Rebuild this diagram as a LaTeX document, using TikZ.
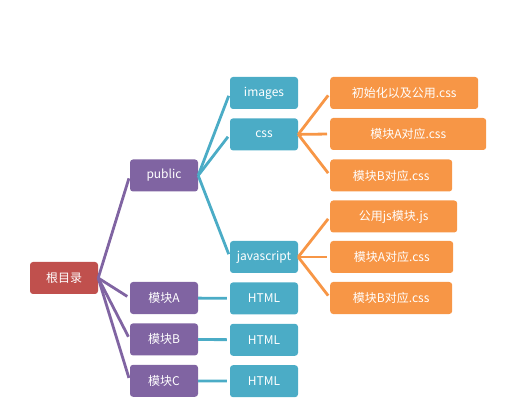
\documentclass[tikz,border=0pt]{standalone}
\usepackage{fontspec}
\setmainfont{Noto Sans CJK SC}
\usetikzlibrary{positioning}
\definecolor{RootRed}{HTML}{C0504D}
\definecolor{DirPurple}{HTML}{8064A2}
\definecolor{FileBlue}{HTML}{4BACC6}
\definecolor{LeafOrange}{HTML}{F79646}

\begin{document}
\begin{tikzpicture}[
        x=1pt, y=1pt,
        font=\fontsize{12}{14}\selectfont,
        every node/.style={align=center, text=white},
        rootbox/.style={rectangle, fill=RootRed, rounded corners=3pt, inner sep=2pt, minimum width=68pt, minimum height=32pt},
        dirbox/.style={rectangle, fill=DirPurple, rounded corners=3pt, inner sep=2pt, minimum width=68pt, minimum height=32pt},
        filebox/.style={rectangle, fill=FileBlue, rounded corners=3pt, inner sep=2pt, minimum width=68pt, minimum height=32pt},
        leafbox/.style={rectangle, fill=LeafOrange, rounded corners=3pt, inner sep=2pt, minimum height=32pt},
        dirlink/.style={draw=DirPurple, line width=2.8pt, shorten >=3pt},
        filelink/.style={draw=FileBlue, line width=2.8pt, shorten >=3pt},
        leaflink/.style={draw=LeafOrange, line width=2.8pt, shorten >=3pt}
      ]
        \useasboundingbox (0,0) rectangle (513,412);

        % Root
        \node[rootbox] (root) at (64,134) {根目录};

        % Second level: public and modules
        \node[dirbox] (public) at (164,236.5) {public};
        \node[dirbox] (modA) at (164,114) {模块A};
        \node[dirbox, below=9pt of modA] (modB) {模块B};
        \node[dirbox, below=9pt of modB] (modC) {模块C};

        % Third level
        \node[filebox] (images) at (264,319) {images};
        \node[filebox, below=9pt of images] (css) {css};
        \node[filebox] (js) at (264,155) {javascript};
        \node[filebox, below=9pt of js] (htmlA) {HTML};
        \node[filebox, below=9pt of htmlA] (htmlB) {HTML};
        \node[filebox, below=9pt of htmlB] (htmlC) {HTML};

        % Leaves of css
        \node[leafbox, anchor=west, minimum width=148pt] (cssInit) at (330,319) {初始化以及公用.css};
        \node[leafbox, anchor=west, minimum width=156pt] (cssA) at (330,278) {模块A对应.css};
        \node[leafbox, anchor=west, minimum width=122pt] (cssB) at (330,236.5) {模块B对应.css};

        % Leaves of javascript
        \node[leafbox, anchor=west, minimum width=127pt] (jsCommon) at (330,195.5) {公用js模块.js};
        \node[leafbox, anchor=west, minimum width=123pt] (jsA) at (330,155) {模块A对应.css};
        \node[leafbox, anchor=west, minimum width=122pt] (jsB) at (330,114) {模块B对应.css};

        % Connections
        \foreach \child in {public, modA, modB, modC}
          \draw[dirlink] (root.east) -- (\child.west);

        \foreach \child in {images, css, js}
          \draw[filelink] (public.east) -- (\child.west);
        \draw[filelink] (modA) -- (htmlA);
        \draw[filelink] (modB) -- (htmlB);
        \draw[filelink] (modC) -- (htmlC);

        \foreach \leaf in {cssInit, cssA, cssB}
          \draw[leaflink] (css.east) -- (\leaf.west);
        \foreach \leaf in {jsCommon, jsA, jsB}
          \draw[leaflink] (js.east) -- (\leaf.west);
      \end{tikzpicture}
\end{document}
